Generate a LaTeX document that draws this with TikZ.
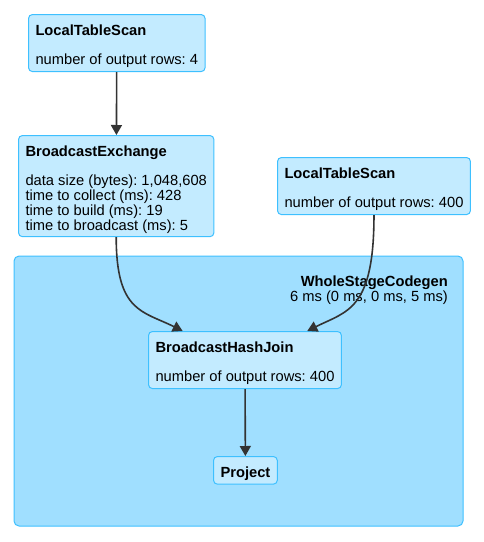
\documentclass[tikz,border=0pt]{standalone}
\usepackage{fontspec}
\setmainfont{Liberation Sans}
\usetikzlibrary{arrows.meta}
\frenchspacing
\definecolor{nodefill}{HTML}{C3EBFF}
\definecolor{nodeline}{HTML}{3EC0FF}
\definecolor{clusterfill}{HTML}{A0DFFF}
\definecolor{edgecolor}{HTML}{333333}
\newcommand{\headgap}{\vrule width 0pt height 17.5pt}
\newcommand{\tailgap}{\vrule width 0pt depth 3.2pt}
\tikzset{
  plannode/.style={draw=nodeline, fill=nodefill, line width=1pt, rounded corners=4pt,
    anchor=north west, align=left, inner xsep=7pt, inner ysep=3.5pt,
    font=\fontsize{14.7}{14.7}\selectfont},
  stagelabel/.style={anchor=base east, inner sep=0pt, font=\fontsize{14.7}{14.7}\selectfont},
  planedge/.style={draw=edgecolor, line width=1.6pt, -{Triangle[length=10pt,width=11pt]}},
}
\begin{document}
\begin{tikzpicture}[x=1pt,y=-1pt]
  \useasboundingbox (0,0) rectangle (483,542);
  % WholeStageCodegen cluster
  \draw[draw=nodeline, fill=clusterfill, line width=1pt, rounded corners=5pt] (14,256) rectangle (463,526);
  \node[stagelabel, font=\fontsize{14.7}{14.7}\selectfont\bfseries] (stageName) at (448,286.7) {WholeStageCodegen};
  \node[stagelabel] (stageTime) at (448,301.7) {6 ms (0 ms, 0 ms, 5 ms)};
  % plan nodes
  \node[plannode] (scanSmall) at (28,14) {\headgap\textbf{LocalTableScan}\\[14.7pt]number of output rows: 4\tailgap};
  \node[plannode] (exchange) at (18,135) {\headgap\textbf{BroadcastExchange}\\[14.7pt]data size (bytes): 1,048,608\\time to collect (ms): 428\\time to build (ms): 19\\time to broadcast (ms): 5\tailgap};
  \node[plannode] (scanLarge) at (277,157) {\headgap\textbf{LocalTableScan}\\[14.7pt]number of output rows: 400\tailgap};
  \node[plannode] (hashJoin) at (148,331) {\headgap\textbf{BroadcastHashJoin}\\[14.7pt]number of output rows: 400\tailgap};
  \node[plannode] (project) at (213,456) {\headgap\textbf{Project}\tailgap};
  % edges
  \draw[planedge] (scanSmall) -- (exchange);
  \draw[planedge] (exchange.south) .. controls +(0,75) and +(-40,-20) .. (hashJoin.155);
  \draw[planedge] (scanLarge.south) .. controls +(0,95) and +(40,-20) .. (hashJoin.25);
  \draw[planedge] (hashJoin) -- (project);
\end{tikzpicture}
\end{document}
